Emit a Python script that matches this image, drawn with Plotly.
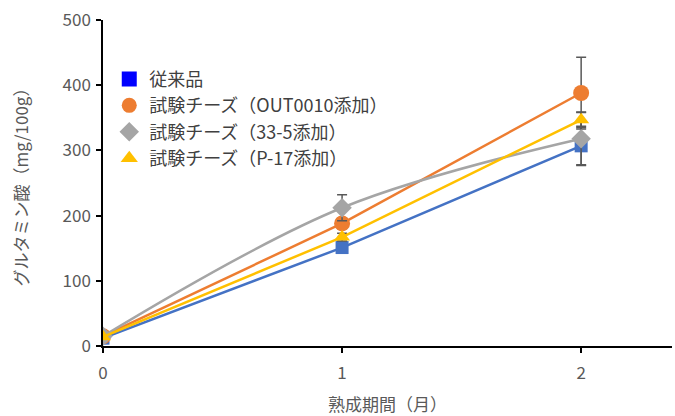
import plotly.graph_objects as go

months = [0, 1, 2]
names = ["従来品", "試験チーズ（OUT0010添加）", "試験チーズ（33-5添加）", "試験チーズ（P-17添加）"]
conventional = [12, 151, 307]
out0010 = [15, 188, 388]
s33_5 = [15, 212, 318]
p17 = [14, 167, 347]
err_conventional = [2, 6, 30]
err_out0010 = [2, 8, 55]
err_s33_5 = [2, 20, 40]
err_p17 = [2, 6, 12]

series = [
    (names[0], conventional, err_conventional, "#4472C4", "square", 13, "#0000FF", "linear"),
    (names[1], out0010, err_out0010, "#ED7D31", "circle", 16, "#ED7D31", "linear"),
    (names[2], s33_5, err_s33_5, "#A5A5A5", "diamond", 15, "#A5A5A5", "spline"),
    (names[3], p17, err_p17, "#FFC000", "triangle-up", 14, "#FFC000", "linear"),
]

fig = go.Figure()
for name, vals, errs, color, sym, size, legcol, shape in series:
    fig.add_trace(go.Scatter(
        x=months, y=vals, mode="lines+markers", showlegend=False,
        line=dict(color=color, width=2.5, shape=shape, smoothing=1.0),
        marker=dict(symbol=sym, size=size, color=color),
        error_y=dict(type="data", array=errs, visible=True, color="#595959",
                     thickness=1.5, width=5),
    ))
for name, vals, errs, color, sym, size, legcol, shape in series:
    fig.add_trace(go.Scatter(
        x=[None], y=[None], mode="markers", name=name,
        marker=dict(symbol=sym, size=15, color=legcol),
    ))

fig.update_layout(
    width=675, height=416,
    margin=dict(l=103, r=3, t=20, b=70),
    paper_bgcolor="white", plot_bgcolor="white",
    font=dict(family="Noto Sans CJK JP", color="#595959", size=17),
    legend=dict(x=0.011, y=0.875, xanchor="left", yanchor="top",
                bgcolor="rgba(0,0,0,0)", font=dict(size=18, color="#404040"),
                tracegroupgap=0, itemwidth=30),
)
fig.update_xaxes(
    range=[0, 2.38], tickvals=months, ticktext=[str(m) for m in months],
    showgrid=False, zeroline=False, showline=True, linecolor="#000000", linewidth=1.5,
    ticks="outside", ticklen=5, tickcolor="#000000", tickwidth=1.5,
    tickfont=dict(size=17, color="#595959"), ticklabelstandoff=6,
    title=dict(text="熟成期間（月）", font=dict(size=17, color="#595959"), standoff=16),
)
fig.update_yaxes(
    range=[0, 500], tickvals=[0, 100, 200, 300, 400, 500],
    showgrid=False, zeroline=False, showline=True, linecolor="#000000", linewidth=1.5,
    ticks="outside", ticklen=5, tickcolor="#000000", tickwidth=1.5,
    tickfont=dict(size=17, color="#595959"), ticklabelstandoff=2,
    title=dict(text="グルタミン酸（mg/100g）", font=dict(size=17, color="#595959"), standoff=30),
)

fig.write_html("out.html")
